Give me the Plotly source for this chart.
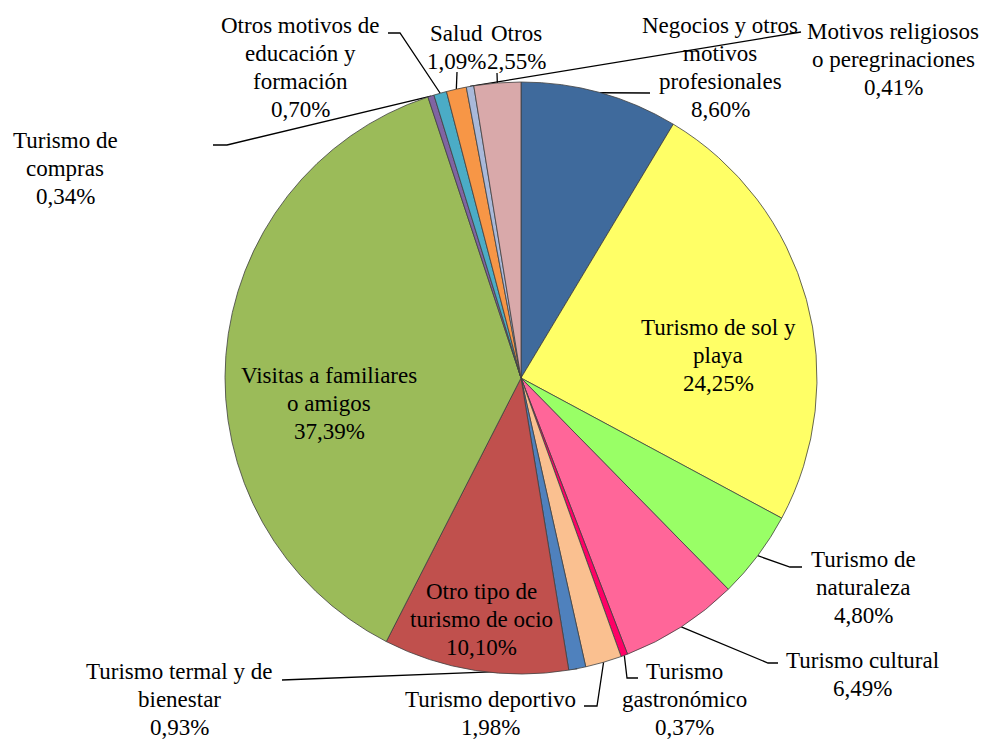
import numpy as np
import plotly.graph_objects as go

W, H = 982, 740

labels = [
    "Negocios y otros<br>motivos<br>profesionales",
    "Turismo de sol y<br>playa",
    "Turismo de<br>naturaleza",
    "Turismo cultural",
    "Turismo<br>gastronómico",
    "Turismo deportivo",
    "Turismo termal y de<br>bienestar",
    "Otro tipo de<br>turismo de ocio",
    "Visitas a familiares<br>o amigos",
    "Turismo de<br>compras",
    "Otros motivos de<br>educación y<br>formación",
    "Salud",
    "Motivos religiosos<br>o peregrinaciones",
    "Otros",
]
values = [8.60, 24.25, 4.80, 6.49, 0.37, 1.98, 0.93, 10.10, 37.39, 0.34, 0.70, 1.09, 0.41, 2.55]
colors = ["#3F6A9C", "#FFFF66", "#99FF66", "#FF6699", "#FF0066", "#FAC090", "#4F81BD",
          "#C0504D", "#9BBB59", "#8064A2", "#4BACC6", "#F79646", "#A9B9DA", "#D9A9AA"]

# pie geometry in pixels
CX, CY, R = 521, 378, 296
LINE_H = 28

# label centre (px) and leader-line elbows (px); None = label sits inside the slice
label_layout = [
    ((720, 67), [(650, 93)]),
    ((718, 355), None),
    ((863, 587), [(790, 567), (802, 567)]),
    ((862, 674), [(768, 663), (778, 663)]),
    ((684, 699), [(627, 678), (638, 678)]),
    ((490, 713), [(597, 706), (584, 706)]),
    ((179, 699), [(310, 679), (282, 680)]),
    ((481, 619), None),
    ((329, 403), None),
    ((65, 168), [(227, 145), (213, 145)]),
    ((300, 67), [(400, 33), (388, 33)]),
    ((456, 47), [(457, 72)]),
    ((893, 59), [(801, 32)]),
    ((516, 47), [(497, 73)]),
]

fig = go.Figure()

fig.add_trace(go.Pie(
    labels=[l.replace("<br>", " ") for l in labels],
    values=values,
    sort=False,
    direction="clockwise",
    rotation=0,
    marker=dict(colors=colors, line=dict(color="#404040", width=0.8)),
    textinfo="none",
    hoverinfo="label+percent",
    showlegend=False,
    domain=dict(x=[(CX - R) / W, (CX + R) / W], y=[1 - (CY + R) / H, 1 - (CY - R) / H]),
))

total = sum(values)
cum = np.cumsum([0] + values[:-1])
font = dict(family="Liberation Serif, Times New Roman, serif", size=23, color="black")

for i, (lab, v) in enumerate(zip(labels, values)):
    mid = (cum[i] + v / 2) / total * 2 * np.pi
    sx, sy = CX + R * np.sin(mid), CY - R * np.cos(mid)
    (tx, ty), elbows = label_layout[i]
    if elbows:
        xs = [sx] + [p[0] for p in elbows]
        ys = [sy] + [p[1] for p in elbows]
        fig.add_trace(go.Scatter(x=xs, y=ys, mode="lines", line=dict(color="black", width=1.3),
                                 hoverinfo="skip", showlegend=False))
    pct = f"{v:.2f}".replace(".", ",") + "%"
    lines = lab.split("<br>") + [pct]
    n = len(lines)
    for k, txt in enumerate(lines):
        fig.add_annotation(x=tx, y=ty + (k - (n - 1) / 2) * LINE_H, xref="x", yref="y",
                           text=txt, showarrow=False, xanchor="center", yanchor="middle",
                           font=font)

fig.update_layout(
    width=W, height=H,
    margin=dict(l=0, r=0, t=0, b=0),
    paper_bgcolor="white", plot_bgcolor="rgba(0,0,0,0)",
    xaxis=dict(range=[0, W], visible=False, domain=[0, 1]),
    yaxis=dict(range=[H, 0], visible=False, domain=[0, 1]),
)

fig.write_html("out.html", config={"displayModeBar": False},
               post_script="document.body.style.margin='0px';")
